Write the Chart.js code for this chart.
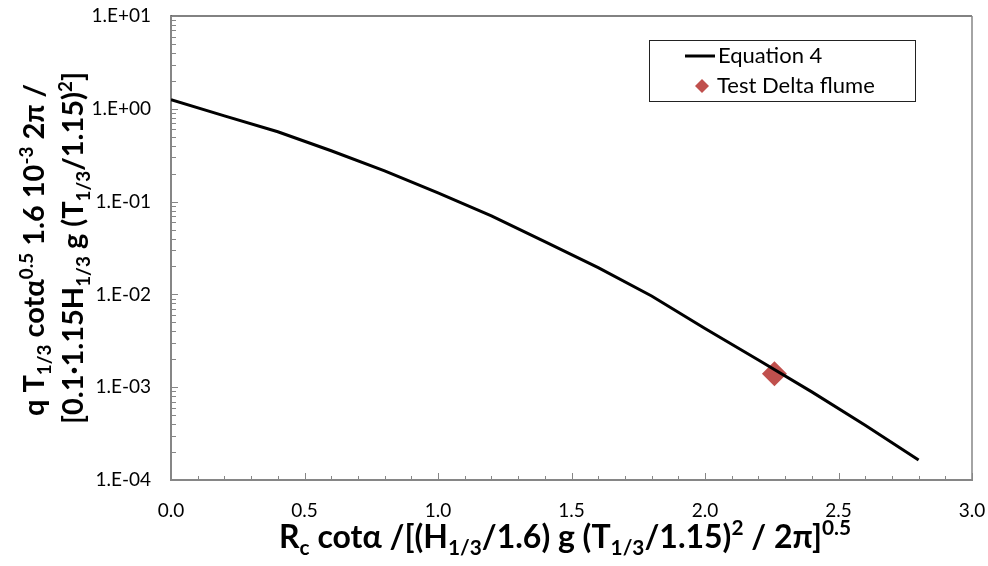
<!DOCTYPE html>
<html>
<head>
<meta charset="utf-8">
<script src="https://cdn.jsdelivr.net/npm/chart.js@4"></script>
<style>
  html, body { margin: 0; padding: 0; background: #fff; }
  #wrap { width: 988px; height: 566px; }
</style>
</head>
<body>
<div id="wrap"><canvas id="overtopChart" width="988" height="566"></canvas></div>
<script>
// --- data ---
const eqX = [0, 0.2, 0.4, 0.6, 0.8, 1.0, 1.2, 1.4, 1.6, 1.8, 2.0, 2.2, 2.4, 2.6, 2.8];
const eqY = [1.25, 0.84, 0.566, 0.353, 0.214, 0.124, 0.070, 0.037, 0.0194, 0.0096, 0.0043, 0.00196, 0.00089, 0.00039, 0.000164];
const testX = [2.26];
const testY = [0.0014];
const seriesNames = ['Equation 4', 'Test Delta flume'];
const yDecades = [1e-4, 1e-3, 1e-2, 1e-1, 1e0, 1e1];

const FONT = 'Lato, "Liberation Sans", sans-serif';
const axisGray = '#868686';
const markerColor = '#C0504D';

// titles with sub/superscripts: [text, mode]
const yTitle1 = [['q T', ''], ['1/3', 'sub'], [' cotα', ''], ['0.5', 'sup'], [' 1.6 10', ''], ['-3', 'sup'], [' 2π /', '']];
const yTitle2 = [['[0.1·1.15H', ''], ['1/3', 'sub'], [' g (T', ''], ['1/3', 'sub'], ['/1.15)', ''], ['2', 'sup'], [']', '']];
const xTitle = [['R', ''], ['c', 'sub'], [' cotα /[(H', ''], ['1/3', 'sub'], ['/1.6) g (T', ''], ['1/3', 'sub'], ['/1.15)', ''], ['2', 'sup'], [' / 2π]', ''], ['0.5', 'sup']];

function richWidth(ctx, segs, size) {
    let w = 0;
    segs.forEach(function (s) {
        const fs = s[1] ? size * 0.65 : size;
        ctx.font = 'bold ' + fs + 'px ' + FONT;
        w += ctx.measureText(s[0]).width;
    });
    return w;
}

function drawRich(ctx, segs, cx, cy, size) {
    const total = richWidth(ctx, segs, size);
    let x = cx - total / 2;
    ctx.textBaseline = 'alphabetic';
    ctx.textAlign = 'left';
    ctx.fillStyle = '#000';
    const base = cy + size * 0.35;
    segs.forEach(function (s) {
        let fs = size, dy = 0;
        if (s[1] === 'sub') { fs = size * 0.65; dy = size * 0.22; }
        if (s[1] === 'sup') { fs = size * 0.65; dy = -size * 0.4; }
        ctx.font = 'bold ' + fs + 'px ' + FONT;
        ctx.fillText(s[0], x, base + dy);
        x += ctx.measureText(s[0]).width;
    });
}

// frame, inward ticks, titles and legend
const decorPlugin = {
    id: 'decor',
    afterDraw(chart) {
        const ctx = chart.ctx;
        const a = chart.chartArea;
        const xs = chart.scales.x;
        const ys = chart.scales.y;
        ctx.save();

        // top + right frame
        ctx.strokeStyle = '#595959';
        ctx.lineWidth = 1.5;
        ctx.beginPath();
        ctx.moveTo(a.left, a.top);
        ctx.lineTo(a.right, a.top);
        ctx.stroke();
        ctx.strokeStyle = axisGray;
        ctx.beginPath();
        ctx.moveTo(a.right, a.top);
        ctx.lineTo(a.right, a.bottom);
        ctx.stroke();

        // ticks pointing into the plot
        ctx.strokeStyle = axisGray;
        ctx.lineWidth = 1;
        ctx.beginPath();
        for (let i = 0; i <= 30; i++) {
            const px = Math.round(xs.getPixelForValue(i / 10)) + 0.5;
            const len = (i % 5 === 0) ? 7 : 4;
            ctx.moveTo(px, a.bottom);
            ctx.lineTo(px, a.bottom - len);
        }
        yDecades.forEach(function (d, k) {
            const py = Math.round(ys.getPixelForValue(d)) + 0.5;
            ctx.moveTo(a.left, py);
            ctx.lineTo(a.left + 7, py);
            if (k < yDecades.length - 1) {
                for (let m = 2; m <= 9; m++) {
                    const pm = Math.round(ys.getPixelForValue(d * m)) + 0.5;
                    ctx.moveTo(a.left, pm);
                    ctx.lineTo(a.left + 5, pm);
                }
            }
        });
        ctx.stroke();

        // axis titles
        drawRich(ctx, xTitle, 565, 537, 32);
        ctx.save();
        ctx.translate(34, 250);
        ctx.rotate(-Math.PI / 2);
        drawRich(ctx, yTitle1, 0, 0, 29);
        ctx.restore();
        ctx.save();
        ctx.translate(73, 248);
        ctx.rotate(-Math.PI / 2);
        drawRich(ctx, yTitle2, 0, 0, 29);
        ctx.restore();

        // legend box
        ctx.fillStyle = '#fff';
        ctx.fillRect(649, 40, 266, 61);
        ctx.strokeStyle = '#222';
        ctx.lineWidth = 1;
        ctx.strokeRect(649.5, 40.5, 266, 61);
        ctx.strokeStyle = '#000';
        ctx.lineWidth = 3;
        ctx.beginPath();
        ctx.moveTo(685, 56);
        ctx.lineTo(715, 56);
        ctx.stroke();
        ctx.fillStyle = markerColor;
        ctx.beginPath();
        ctx.moveTo(702 - 7, 86);
        ctx.lineTo(702, 86 - 7);
        ctx.lineTo(702 + 7, 86);
        ctx.lineTo(702, 86 + 7);
        ctx.closePath();
        ctx.fill();
        ctx.fillStyle = '#000';
        ctx.font = '22px ' + FONT;
        ctx.textAlign = 'left';
        ctx.textBaseline = 'middle';
        ctx.fillText(chart.data.datasets[0].label, 718, 56);
        ctx.fillText(chart.data.datasets[1].label, 717, 86);

        ctx.restore();
    }
};

function buildChart() {
    const el = document.getElementById('overtopChart');

    const eqPoints = eqX.map(function (x, i) { return { x: x, y: eqY[i] }; });
    const testPoints = testX.map(function (x, i) { return { x: x, y: testY[i] }; });

    new Chart(el, {
        type: 'line',
        data: {
            datasets: [
                {
                    label: seriesNames[0],
                    data: eqPoints,
                    borderColor: '#000',
                    borderWidth: 3,
                    pointRadius: 0,
                    tension: 0,
                    fill: false
                },
                {
                    label: seriesNames[1],
                    data: testPoints,
                    showLine: false,
                    pointStyle: 'rectRot',
                    pointRadius: 12.5,
                    pointBackgroundColor: markerColor,
                    pointBorderWidth: 0,
                    clip: false
                }
            ]
        },
        options: {
            responsive: false,
            animation: false,
            events: [],
            layout: { padding: { top: 16, right: 16, left: 0, bottom: 0 } },
            plugins: {
                legend: { display: false },
                tooltip: { enabled: false }
            },
            scales: {
                x: {
                    type: 'linear',
                    min: 0,
                    max: 3,
                    // invisible tick marks only push the labels down
                    grid: { display: false, drawTicks: true, tickLength: 19 },
                    border: { color: axisGray, width: 2 },
                    ticks: {
                        stepSize: 0.5,
                        padding: 0,
                        color: '#000',
                        font: { family: FONT, size: 19 },
                        callback: function (v) { return Number(v).toFixed(1); }
                    },
                    afterFit: function (s) { s.height = 86; }
                },
                y: {
                    type: 'logarithmic',
                    min: 1e-4,
                    max: 10,
                    grid: { display: false, drawTicks: true, tickLength: 20 },
                    border: { color: axisGray, width: 2 },
                    ticks: {
                        padding: 0,
                        color: '#000',
                        font: { family: FONT, size: 19 },
                        callback: function (v) {
                            const e = Math.round(Math.log10(v));
                            return '1.E' + (e < 0 ? '-' : '+') + String(Math.abs(e)).padStart(2, '0');
                        }
                    },
                    afterBuildTicks: function (s) {
                        s.ticks = yDecades.map(function (d) { return { value: d }; });
                    },
                    afterFit: function (s) { s.width = 171; }
                }
            }
        },
        plugins: [decorPlugin]
    });
}

document.addEventListener('DOMContentLoaded', buildChart);
</script>
</body>
</html>
